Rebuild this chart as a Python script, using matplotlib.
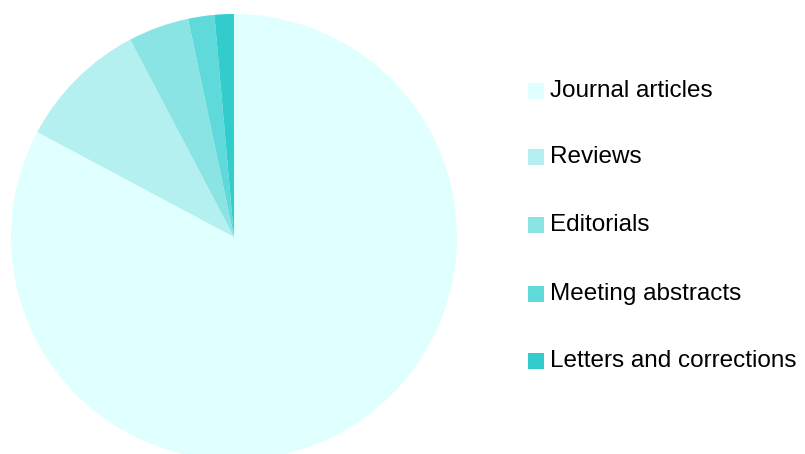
import matplotlib
matplotlib.use('Agg')
import matplotlib.pyplot as plt
from matplotlib.patches import Rectangle

plt.rcParams['font.family'] = ['Liberation Sans', 'DejaVu Sans']

# publication types (share of total, %)
categories = ['Journal articles', 'Reviews', 'Editorials', 'Meeting abstracts', 'Letters and corrections']
shares = [82.8, 9.5, 4.4, 1.9, 1.4]
colors = ['#E0FFFF', '#B4F0F0', '#8AE4E4', '#5FD9D9', '#33CCCC']

W, H = 805, 454
fig = plt.figure(figsize=(W / 100, H / 100), dpi=100)

# pie: centre (234, 237) px, radius 223 px
cx, cy, r = 234, 237, 223
ax = fig.add_axes([(cx - r) / W, (H - cy - r) / H, 2 * r / W, 2 * r / H])
ax.pie(shares, colors=colors, startangle=90, counterclock=False, radius=1,
       wedgeprops={'linewidth': 0})
ax.set_xlim(-1, 1)
ax.set_ylim(-1, 1)
ax.set_aspect('equal')
ax.axis('off')

# legend, drawn by hand in pixel coordinates (top of each swatch)
swatch_top = [83, 149, 217, 286, 353]
for lab, col, y in zip(categories, colors, swatch_top):
    fig.patches.append(Rectangle((528 / W, (H - y - 16) / H), 16 / W, 16 / H,
                                 transform=fig.transFigure, facecolor=col,
                                 edgecolor='none'))
    fig.text(550 / W, (H - y - 14) / H, lab, fontsize=17.5, va='baseline',
             ha='left', color='black')

fig.savefig('out.png', dpi=100)
